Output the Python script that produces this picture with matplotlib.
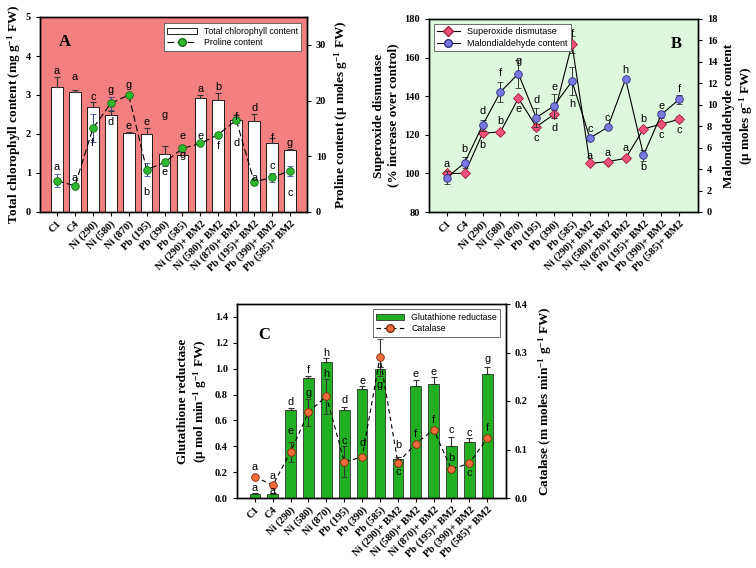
import matplotlib
matplotlib.use("Agg")
import matplotlib.pyplot as plt
import numpy as np
from matplotlib.patches import Patch
from matplotlib.lines import Line2D

plt.rcParams['mathtext.fontset'] = 'custom'
plt.rcParams['mathtext.rm'] = 'Liberation Serif:bold'
plt.rcParams['mathtext.bf'] = 'Liberation Serif:bold'
plt.rcParams['mathtext.it'] = 'Liberation Serif:bold:italic'
plt.rcParams['mathtext.default'] = 'rm'

categories = ["C1", "C4", "Ni (290)", "Ni (580)", "Ni (870)", "Pb (195)", "Pb (390)", "Pb (585)",
              "Ni (290)+ BM2", "Ni (580)+ BM2", "Ni (870)+ BM2", "Pb (195)+ BM2", "Pb (390)+ BM2", "Pb (585)+ BM2"]

# Panel A
chlorophyll = [3.20, 3.07, 2.68, 2.48, 2.03, 2.01, 1.48, 1.45, 2.92, 2.86, 2.36, 2.33, 1.76, 1.60]
chlorophyll_err = [0.27, 0.05, 0.14, 0.10, 0.02, 0.15, 0.20, 0.02, 0.08, 0.18, 0.12, 0.17, 0.15, 0.02]
proline = [5.6, 4.7, 15.0, 19.5, 21.0, 7.6, 8.9, 11.4, 12.3, 13.9, 16.5, 5.4, 6.2, 7.4]
proline_err = [1.2, 0.3, 2.5, 1.2, 0.4, 1.2, 0.6, 0.7, 0.3, 0.3, 0.6, 0.6, 0.8, 0.9]
letters_A_top = ["a", "a", "c", "g", "g", "e", "g", "e", "a", "b", "f", "d", "f", "g"]
letters_A_top_y = [3.62, 3.45, 2.94, 3.13, 3.26, 2.30, 2.49, 1.95, 3.15, 3.20, 2.44, 2.66, 1.89, 1.76]
letters_A_bot = ["a", "a", "f", "d", "e", "b", "e", "g", "e", "f", "d", "a", "c", "c"]
letters_A_bot_y = [1.16, 0.86, 1.76, 2.31, 2.20, 0.50, 1.02, 1.45, 1.95, 1.70, 1.76, 0.86, 1.18, 0.48]

# Panel B
sod = [100.0, 100.0, 120.8, 121.5, 138.9, 124.2, 130.6, 167.0, 105.2, 106.1, 107.8, 123.0, 125.6, 128.0]
sod_err = [0.8, 0.8, 1.0, 0.8, 1.0, 1.5, 2.0, 4.4, 0.8, 0.8, 0.8, 1.0, 1.0, 1.5]
mda = [3.2, 4.6, 8.1, 11.2, 12.9, 8.8, 9.9, 12.2, 6.9, 7.9, 12.4, 5.3, 9.1, 10.5]
mda_err = [0.6, 0.5, 0.5, 0.9, 1.3, 0.9, 1.1, 1.3, 0.2, 0.2, 0.2, 0.5, 0.3, 0.4]
letters_B_top = ["a", "b", "d", "f", "g", "d", "e", "f", "c", "c", "h", "b", "e", "f"]
letters_B_top_y = [104.7, 112.6, 132.5, 151.9, 158.4, 138.0, 144.9, 172.0, 122.8, 128.5, 153.6, 128.2, 134.9, 143.7]
letters_B_bot = ["", "", "b", "b", "e", "c", "d", "h", "a", "a", "a", "b", "c", "c"]
letters_B_bot_y = [0, 0, 114.7, 127.3, 133.2, 118.2, 123.4, 135.8, 109.2, 110.4, 113.0, 103.5, 119.9, 122.5]

# Panel C
gr = [0.031, 0.030, 0.678, 0.926, 1.052, 0.678, 0.840, 0.995, 0.300, 0.869, 0.879, 0.405, 0.436, 0.962]
gr_err = [0.005, 0.005, 0.015, 0.02, 0.03, 0.026, 0.026, 0.02, 0.02, 0.044, 0.06, 0.07, 0.03, 0.05]
catalase = [0.044, 0.026, 0.095, 0.177, 0.210, 0.075, 0.084, 0.290, 0.073, 0.112, 0.141, 0.059, 0.072, 0.123]
catalase_err = [0.0, 0.0, 0.021, 0.028, 0.036, 0.032, 0.0, 0.038, 0.008, 0.0, 0.0, 0.0, 0.0, 0.0]
letters_C_top = ["a", "a", "d", "f", "h", "d", "e", "i", "b", "e", "e", "c", "c", "g"]
letters_C_top_y = [0.24, 0.17, 0.743, 0.99, 1.124, 0.756, 0.905, 1.27, 0.413, 0.96, 0.977, 0.524, 0.50, 1.073]
letters_C_bot = ["a", "a", "e", "g", "h", "c", "d", "g", "c", "f", "f", "b", "c", "f"]
letters_C_bot_y = [0.08, 0.054, 0.52, 0.81, 0.962, 0.438, 0.425, 0.877, 0.20, 0.495, 0.606, 0.31, 0.193, 0.54]

W, H = 756, 568
fig = plt.figure(figsize=(W / 100, H / 100), dpi=100)

def rect(x0, y0, x1, y1):
    return [x0 / W, 1 - y1 / H, (x1 - x0) / W, (y1 - y0) / H]

serif = 'Liberation Serif'
sans = 'Liberation Sans'
tick_fs = 7.5
lab_fs = 9.5
let_fs = 7.8
x = np.arange(len(categories))

def style_axes(ax, ax2):
    for a in (ax, ax2):
        for lab in a.get_yticklabels():
            lab.set_fontfamily(serif)
            lab.set_fontweight('bold')
            lab.set_fontsize(tick_fs)
        a.tick_params(axis='y', direction='out', length=3, width=0.8)
    ax.set_xticks(x)
    ax.set_xticklabels(categories, rotation=45, ha='right', rotation_mode='anchor',
                       fontfamily=serif, fontweight='bold', fontsize=tick_fs)
    ax.tick_params(axis='x', direction='out', length=3, width=0.8, pad=2)
    for a in (ax, ax2):
        for s in a.spines.values():
            s.set_linewidth(1.0)

# ---------- Panel A ----------
axA = fig.add_axes(rect(40, 17, 307, 212))
axA.set_facecolor('#F38080')
axA.bar(x, chlorophyll, width=0.65, color='white', edgecolor='black', linewidth=0.6,
        yerr=[np.zeros(len(x)), chlorophyll_err], error_kw=dict(ecolor='#333333', elinewidth=0.8, capsize=2.5, capthick=0.8),
        zorder=2)
axA.set_xlim(-0.95, 13.95)
axA.set_ylim(0, 5)
axA.set_yticks([0, 1, 2, 3, 4, 5])
axA2 = axA.twinx()
axA2.errorbar(x, proline, yerr=proline_err, fmt='--o', color='black', lw=0.8, dashes=(6, 3),
              markerfacecolor='#2DB82D', markeredgecolor='#1A6A1A', markersize=5.5, markeredgewidth=0.6,
              ecolor='#4050A0', elinewidth=0.8, capsize=2.5, capthick=0.8, zorder=3)
axA2.set_ylim(0, 35)
axA2.set_yticks([0, 10, 20, 30])
style_axes(axA, axA2)
axA.set_ylabel('Total chlorophyll content (mg g$^{-1}$ FW)', fontfamily=serif, fontweight='bold', fontsize=lab_fs, labelpad=2)
axA2.set_ylabel('Proline content (µ moles g$^{-1}$ FW)', fontfamily=serif, fontweight='bold', fontsize=lab_fs, labelpad=4)
for i in range(len(x)):
    axA2.text(x[i], letters_A_top_y[i] * 7, letters_A_top[i], ha='center', va='center', fontfamily=sans, fontsize=let_fs, zorder=5)
    axA2.text(x[i], letters_A_bot_y[i] * 7, letters_A_bot[i], ha='center', va='center', fontfamily=sans, fontsize=let_fs, zorder=5)
axA.text(0.07, 0.85, 'A', transform=axA.transAxes, fontfamily=serif, fontweight='bold', fontsize=12)
hA = [Patch(facecolor='white', edgecolor='black', linewidth=0.6),
      Line2D([], [], color='black', ls='--', dashes=(6, 3), lw=0.8, marker='o', markerfacecolor='#2DB82D',
             markeredgecolor='#1A6A1A', markersize=5.5)]
legA = axA2.legend(hA, ['Total chlorophyll content', 'Proline content'], loc='upper right',
                   bbox_to_anchor=(0.995, 0.99), prop={'family': sans, 'size': 6.3}, frameon=True, fancybox=False,
                   edgecolor='#555555', framealpha=1, borderpad=0.4, handlelength=3.4, labelspacing=0.3)
legA.get_frame().set_linewidth(0.6)

# ---------- Panel B ----------
axB = fig.add_axes(rect(429, 19, 698, 212))
axB.set_facecolor('#DDF8DD')
axB.errorbar(x, sod, yerr=sod_err, fmt='-D', color='black', lw=0.8, markerfacecolor='#F0507A',
             markeredgecolor='#A02040', markersize=5, markeredgewidth=0.6, ecolor='#333333', elinewidth=0.7,
             capsize=2.5, capthick=0.7, zorder=3)
axB.set_xlim(-1, 14.05)
axB.set_ylim(80, 180)
axB.set_yticks([80, 100, 120, 140, 160, 180])
axB2 = axB.twinx()
axB2.errorbar(x, mda, yerr=mda_err, fmt='-o', color='black', lw=0.8, markerfacecolor='#7878E0',
              markeredgecolor='#303080', markersize=5.5, markeredgewidth=0.6, ecolor='#333333', elinewidth=0.7,
              capsize=2.5, capthick=0.7, zorder=3)
axB2.set_ylim(0, 18)
axB2.set_yticks(list(range(0, 19, 2)))
style_axes(axB, axB2)
axB.set_ylabel('Superoxide dismutase\n(% increase over control)', fontfamily=serif, fontweight='bold', fontsize=lab_fs, labelpad=4)
axB2.set_ylabel('Malondialdehyde content\n(µ moles g$^{-1}$ FW)', fontfamily=serif, fontweight='bold', fontsize=lab_fs, labelpad=4)
for i in range(len(x)):
    axB2.text(x[i], (letters_B_top_y[i] - 80) * 0.18, letters_B_top[i], ha='center', va='center', fontfamily=sans, fontsize=let_fs, zorder=5)
    if letters_B_bot[i]:
        axB2.text(x[i], (letters_B_bot_y[i] - 80) * 0.18, letters_B_bot[i], ha='center', va='center', fontfamily=sans, fontsize=let_fs, zorder=5)
axB.text(0.90, 0.85, 'B', transform=axB.transAxes, fontfamily=serif, fontweight='bold', fontsize=12)
hB = [Line2D([], [], color='black', lw=0.8, marker='D', markerfacecolor='#F0507A', markeredgecolor='#A02040', markersize=5),
      Line2D([], [], color='black', lw=0.8, marker='o', markerfacecolor='#7878E0', markeredgecolor='#303080', markersize=5.5)]
legB = axB2.legend(hB, ['Superoxide dismutase', 'Malondialdehyde content'], loc='upper left',
                   bbox_to_anchor=(0.0, 1.0), prop={'family': sans, 'size': 6.5}, frameon=True, fancybox=False,
                   edgecolor='#555555', framealpha=1, borderpad=0.4, handlelength=2.5, labelspacing=0.3)
legB.get_frame().set_linewidth(0.6)

# ---------- Panel C ----------
axC = fig.add_axes(rect(237, 304, 506, 498))
axC.bar(x, gr, width=0.6, color='#22B022', edgecolor='#333333', linewidth=0.6,
        yerr=[np.zeros(len(x)), gr_err], error_kw=dict(ecolor='#333333', elinewidth=0.8, capsize=2.5, capthick=0.8),
        zorder=2)
axC.set_xlim(-1, 14.05)
axC.set_ylim(0, 1.5)
axC.set_yticks([0.0, 0.2, 0.4, 0.6, 0.8, 1.0, 1.2, 1.4])
axC.set_yticklabels(['0.0', '0.2', '0.4', '0.6', '0.8', '1.0', '1.2', '1.4'])
axC2 = axC.twinx()
axC2.errorbar(x, catalase, yerr=catalase_err, fmt='--o', color='black', lw=0.8, dashes=(4, 3),
              markerfacecolor='#F26B3A', markeredgecolor='#7A2A10', markersize=5.5, markeredgewidth=0.6,
              ecolor='#333333', elinewidth=0.8, capsize=2.5, capthick=0.8, zorder=3)
axC2.set_ylim(0, 0.4)
axC2.set_yticks([0.0, 0.1, 0.2, 0.3, 0.4])
axC2.set_yticklabels(['0.0', '0.1', '0.2', '0.3', '0.4'])
style_axes(axC, axC2)
axC.set_ylabel('Glutathione reductase\n(µ mol min$^{-1}$ g$^{-1}$ FW)', fontfamily=serif, fontweight='bold', fontsize=lab_fs, labelpad=4)
axC2.set_ylabel('Catalase (m moles min$^{-1}$ g$^{-1}$ FW)', fontfamily=serif, fontweight='bold', fontsize=lab_fs, labelpad=6)
for i in range(len(x)):
    axC2.text(x[i], letters_C_top_y[i] * 0.4 / 1.5, letters_C_top[i], ha='center', va='center', fontfamily=sans, fontsize=let_fs, zorder=5)
    axC2.text(x[i], letters_C_bot_y[i] * 0.4 / 1.5, letters_C_bot[i], ha='center', va='center', fontfamily=sans, fontsize=let_fs, zorder=5)
axC.text(0.08, 0.82, 'C', transform=axC.transAxes, fontfamily=serif, fontweight='bold', fontsize=12)
hC = [Patch(facecolor='#22B022', edgecolor='#333333', linewidth=0.6),
      Line2D([], [], color='black', ls='--', dashes=(4, 3), lw=0.8, marker='o', markerfacecolor='#F26B3A',
             markeredgecolor='#7A2A10', markersize=5.5)]
legC = axC2.legend(hC, ['Glutathione reductase', 'Catalase'], loc='upper right',
                   bbox_to_anchor=(0.995, 0.995), prop={'family': sans, 'size': 6.3}, frameon=True, fancybox=False,
                   edgecolor='#555555', framealpha=1, borderpad=0.4, handlelength=3.2, labelspacing=0.3)
legC.get_frame().set_linewidth(0.6)

fig.savefig('out.png', dpi=100)
